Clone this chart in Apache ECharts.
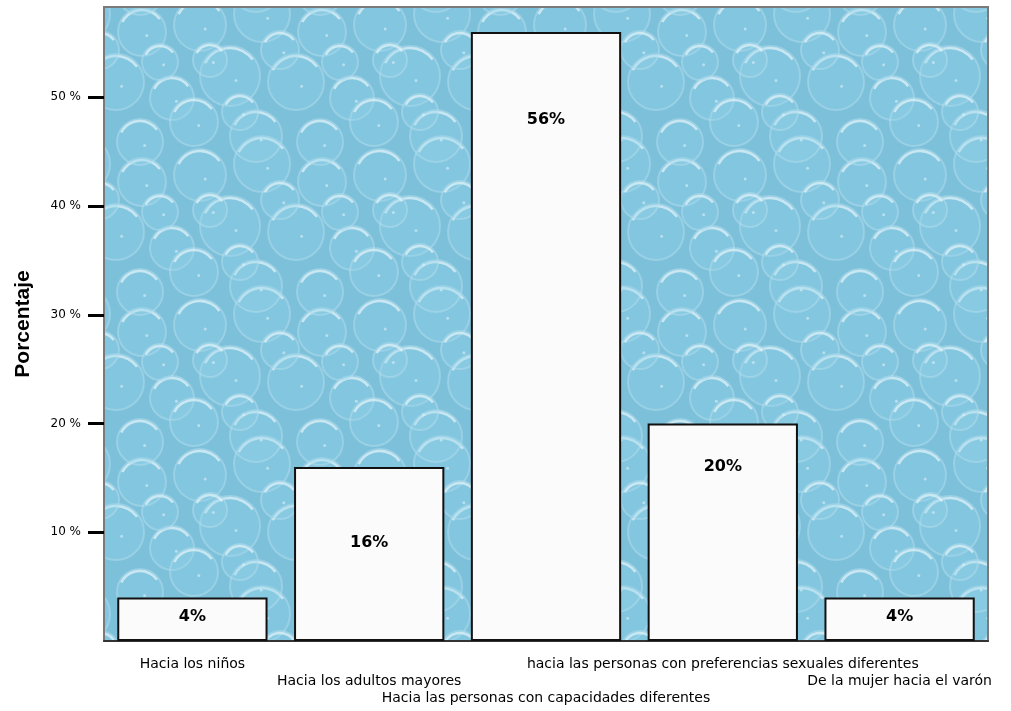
<!DOCTYPE html>
<html><head><meta charset="utf-8">
<script src="https://cdn.jsdelivr.net/npm/echarts@6/dist/echarts.min.js"></script>
<style>html,body{margin:0;padding:0;background:#fff}#c{width:1011px;height:711px}</style>
</head><body><div id="c"></div>
<script>
const categories = [
  'Hacia los niños',
  'Hacia los adultos mayores',
  'Hacia las personas con capacidades diferentes',
  'hacia las personas con preferencias sexuales diferentes',
  'De la mujer hacia el varón'
];
const percentages = [4, 16, 56, 20, 4];
const yTicks = [10, 20, 30, 40, 50];
const labelRows = [0, 1, 2, 0, 1];

function bubbleTile() {
  const W = 180, H = 150;
  const c = document.createElement('canvas'); c.width = W; c.height = H;
  const g = c.getContext('2d');
  g.fillStyle = '#7cc0da'; g.fillRect(0, 0, W, H);
  const bubbles = [[20,25,26],[82,14,28],[142,32,24],[50,76,30],[116,82,28],[172,98,22],[14,122,24],[76,136,26],[140,142,23],[100,50,19],[30,60,17],[60,112,18],[160,62,18]];
  for (const [bx, by, r] of bubbles) {
    for (const dx of [-W, 0, W]) for (const dy of [-H, 0, H]) {
      const x = bx + dx, y = by + dy;
      g.beginPath(); g.arc(x, y, r, 0, Math.PI * 2);
      g.fillStyle = 'rgba(150,212,235,0.3)'; g.fill();
      g.lineWidth = 2; g.strokeStyle = 'rgba(180,222,238,0.5)'; g.stroke();
      g.beginPath(); g.arc(x, y, r - 2, Math.PI * 1.15, Math.PI * 1.8);
      g.lineWidth = 2.5; g.strokeStyle = 'rgba(230,245,250,0.7)'; g.stroke();
      g.beginPath(); g.arc(x + r * 0.2, y + r * 0.15, 1.5, 0, Math.PI * 2);
      g.fillStyle = 'rgba(220,240,250,0.6)'; g.fill();
    }
  }
  return c;
}

const labelGap = [11, 68, 80, 35, 11];

const chart = echarts.init(document.getElementById('c'), null, {renderer: 'canvas'});
chart.setOption({
  animation: false,
  backgroundColor: '#ffffff',
  grid: {
    left: 104, right: 23, top: 7, bottom: 70,
    show: true,
    backgroundColor: {image: bubbleTile(), repeat: 'repeat'},
    borderColor: '#7a7a7a', borderWidth: 2
  },
  xAxis: {
    type: 'category',
    data: categories,
    axisLine: {lineStyle: {color: '#333', width: 2}},
    axisTick: {alignWithLabel: true, length: 11, lineStyle: {color: '#000', width: 3}},
    axisLabel: {
      interval: 0, hideOverlap: false, margin: 15,
      fontFamily: 'DejaVu Sans', fontSize: 14, color: '#000', lineHeight: 17,
      formatter: (v, i) => '\n'.repeat(labelRows[i]) + v
    }
  },
  yAxis: {
    type: 'value', min: 0, max: 58.3, interval: 10,
    name: 'Porcentaje', nameLocation: 'middle', nameGap: 70, nameRotate: 90,
    nameTextStyle: {fontFamily: 'Liberation Sans', fontWeight: 'bold', fontSize: 21, color: '#000'},
    splitLine: {show: false},
    axisLine: {show: true, lineStyle: {color: '#7a7a7a', width: 2}},
    axisTick: {show: true, length: 16, customValues: yTicks, lineStyle: {color: '#000', width: 3}},
    axisLabel: {
      margin: 23, customValues: yTicks,
      fontFamily: 'DejaVu Sans', fontSize: 12, color: '#000',
      formatter: v => v + ' %'
    }
  },
  series: [{
    type: 'bar',
    barWidth: '85%',
    data: percentages.map((v, i) => ({
      value: v,
      label: {show: true, position: 'insideTop', distance: labelGap[i]}
    })),
    itemStyle: {color: '#fbfbfb', borderColor: '#111', borderWidth: 2},
    label: {
      show: true, formatter: p => p.value + '%',
      fontFamily: 'DejaVu Sans', fontWeight: 'bold', fontSize: 16, color: '#000'
    }
  }]
});
</script>
</body></html>
